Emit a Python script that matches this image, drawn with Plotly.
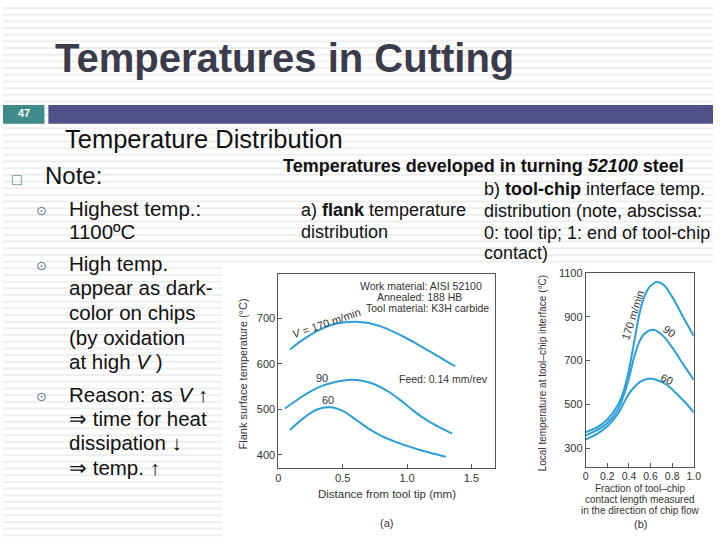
import plotly.graph_objects as go

W, H = 720, 540

# ---------------- data ----------------
# (a) flank temperature vs distance from tool tip (mm)
a_x_170 = [0.09, 0.2, 0.3, 0.4, 0.5, 0.6, 0.7, 0.8, 0.9, 1.0, 1.1, 1.2, 1.3, 1.375]
a_y_170 = [632, 655, 672, 685, 691, 693, 690, 682, 670, 656, 640, 624, 607, 595]
a_x_90 = [0.05, 0.15, 0.25, 0.35, 0.45, 0.55, 0.65, 0.75, 0.85, 0.95, 1.05, 1.15, 1.25, 1.35]
a_y_90 = [502, 522, 540, 553, 561, 565, 563, 555, 540, 520, 497, 477, 461, 447]
a_x_60 = [0.09, 0.2, 0.3, 0.4, 0.5, 0.6, 0.7, 0.8, 0.9, 1.0, 1.1, 1.2, 1.3]
a_y_60 = [455, 482, 500, 505, 497, 478, 458, 442, 430, 420, 411, 403, 396]

# (b) tool-chip interface temperature vs fraction of contact length
b_x_170 = [0, 0.1, 0.2, 0.3, 0.35, 0.4, 0.45, 0.5, 0.55, 0.6, 0.66, 0.72, 0.8, 0.9, 1.0]
b_y_170 = [375, 395, 432, 500, 560, 660, 790, 920, 1000, 1040, 1058, 1045, 990, 900, 812]
b_x_90 = [0, 0.1, 0.2, 0.3, 0.35, 0.4, 0.45, 0.5, 0.55, 0.62, 0.7, 0.8, 0.9, 1.0]
b_y_90 = [360, 382, 416, 480, 540, 620, 720, 790, 825, 840, 820, 760, 685, 612]
b_x_60 = [0, 0.1, 0.2, 0.3, 0.35, 0.4, 0.45, 0.5, 0.58, 0.66, 0.75, 0.85, 0.93, 1.0]
b_y_60 = [341, 365, 401, 460, 505, 550, 580, 602, 617, 612, 590, 545, 505, 464]

a_xticks = [0, 0.5, 1.0, 1.5]
a_xticktext = ["0", "0.5", "1.0", "1.5"]
a_yticks = [400, 500, 600, 700]
b_xticks = [0, 0.2, 0.4, 0.6, 0.8, 1.0]
b_xticktext = ["0", "0.2", "0.4", "0.6", "0.8", "1.0"]
b_yticks = [300, 500, 700, 900, 1100]

CURVE = "#2c9fd8"
TXT = "#333333"
FONT = "Liberation Sans, Arial, sans-serif"


def px(x):
    return x / W


def py(y):
    return 1 - y / H


fig = go.Figure()

for xs, ys in [(a_x_170, a_y_170), (a_x_90, a_y_90), (a_x_60, a_y_60)]:
    fig.add_trace(go.Scatter(x=xs, y=ys, mode="lines", xaxis="x", yaxis="y",
                             line=dict(color=CURVE, width=2, shape="spline", smoothing=1.0),
                             showlegend=False, hoverinfo="skip"))
for xs, ys in [(b_x_170, b_y_170), (b_x_90, b_y_90), (b_x_60, b_y_60)]:
    fig.add_trace(go.Scatter(x=xs, y=ys, mode="lines", xaxis="x2", yaxis="y2",
                             line=dict(color=CURVE, width=2, shape="spline", smoothing=1.0),
                             showlegend=False, hoverinfo="skip"))

axis_common = dict(showline=True, mirror=True, linecolor="#555555", linewidth=1,
                   ticks="inside", ticklen=4, tickcolor="#555555", showgrid=False,
                   zeroline=False, tickfont=dict(family=FONT, size=11, color=TXT),
                   fixedrange=True)
axis_b_x = dict(axis_common)
axis_b_x["tickfont"] = dict(family=FONT, size=10.5, color=TXT)

shapes = []
# faint horizontal stripes of slide background
y = 1.0
while y < H:
    shapes.append(dict(type="rect", xref="paper", yref="paper", layer="below",
                       x0=0, x1=1, y0=py(y + 2), y1=py(y),
                       fillcolor="#eeeeee", line=dict(width=0)))
    y += 6.75
# white picture area
shapes.append(dict(type="rect", xref="paper", yref="paper", layer="below",
                   x0=px(222), x1=1, y0=0, y1=py(262),
                   fillcolor="white", line=dict(width=0)))
# slide number box and bar
shapes.append(dict(type="rect", xref="paper", yref="paper", layer="below",
                   x0=0, x1=px(42), y0=py(119), y1=py(100),
                   fillcolor="#3f8a8b", line=dict(width=0)))
shapes.append(dict(type="rect", xref="paper", yref="paper", layer="below",
                   x0=px(46), x1=1, y0=py(119), y1=py(100),
                   fillcolor="#51518a", line=dict(width=0)))

ann = []


def T(text, x, y, size, color="#111111", xanchor="left", angle=0, family=FONT):
    if angle == 0:
        y = y - 0.16 * size
    ann.append(dict(text=text, x=px(x), y=py(y), xref="paper", yref="paper",
                    xanchor=xanchor, yanchor="middle", showarrow=False,
                    textangle=angle, font=dict(family=family, size=size, color=color)))


# slide title and header
T("<b>Temperatures in Cutting</b>", 51, 59, 40, color="#3b3b4b")
T("<b>47</b>", 21, 110, 11, color="white", xanchor="center")
T("Temperature Distribution", 61, 139, 25.5)

# left notes
T("□", 14, 178, 16, color="#3a6f78", xanchor="center")
T("Note:", 41, 175, 24)
BUL = "#5b7b7d"
for yb in [208, 264, 396]:
    T("⊙", 39, yb + 1, 13, color=BUL, xanchor="center", family="DejaVu Sans")
body = [("Highest temp.:", 208), ("1100ºC", 231), ("High temp.", 264),
        ("appear as dark-", 288), ("color on chips", 313), ("(by oxidation", 339),
        ("at high <i>V</i> )", 363), ("Reason: as <i>V</i> ↑", 396),
        ("⇒ time for heat", 420), ("dissipation ↓", 445), ("⇒ temp. ↑", 470)]
for t, yy in body:
    T(t, 65, yy, 20.5)

# right header text
T("<b>Temperatures developed in turning <i>52100</i> steel</b>", 282, 165, 18)
T("b) <b>tool-chip</b> interface temp.", 486, 188, 18)
T("distribution (note, abscissa:", 486, 210, 18)
T("0: tool tip; 1: end of tool-chip", 486, 232, 18)
T("contact)", 486, 253, 18)
T("a) <b>flank</b> temperature", 300, 209, 18)
T("distribution", 300, 231, 18)

# chart (a) texts
T("Work material: AISI 52100", 424, 285, 10.5, color=TXT, xanchor="center")
T("Annealed: 188 HB", 422, 296, 10.5, color=TXT, xanchor="center")
T("Tool material: K3H carbide", 430, 307, 10.5, color=TXT, xanchor="center")
T("Feed: 0.14 mm/rev", 447, 379, 10.5, color=TXT, xanchor="center")
T("<i>V</i> = 170 m/min", 328, 321, 11, color=TXT, xanchor="center", angle=-19)
T("90", 323, 378, 11, color=TXT, xanchor="center")
T("60", 330, 400, 11, color=TXT, xanchor="center")
T("Flank surface temperature (°C)", 243, 372, 11, color=TXT, xanchor="center", angle=-90)
T("Distance from tool tip (mm)", 389, 495, 11.5, color=TXT, xanchor="center")
T("(a)", 389, 525, 11, color=TXT, xanchor="center")

# chart (b) texts
T("170 m/min", 638, 313, 11, color=TXT, xanchor="center", angle=-72)
T("90", 675, 329, 11, color=TXT, xanchor="center", angle=35)
T("60", 673, 377, 11, color=TXT, xanchor="center", angle=25)
T("Local temperature at tool–chip interface (°C)", 547, 371, 10, color=TXT,
  xanchor="center", angle=-90)
T("Fraction of tool–chip", 646, 490, 10, color=TXT, xanchor="center")
T("contact length measured", 646, 501, 10, color=TXT, xanchor="center")
T("in the direction of chip flow", 646, 512, 10, color=TXT, xanchor="center")
T("(b)", 646, 526, 11, color=TXT, xanchor="center")

fig.update_layout(
    width=W, height=H, margin=dict(l=0, r=0, t=0, b=0),
    paper_bgcolor="white", plot_bgcolor="rgba(0,0,0,0)",
    showlegend=False,
    xaxis=dict(domain=[px(279.3), px(499.3)], range=[0, 1.686], anchor="y",
               tickvals=a_xticks, ticktext=a_xticktext, **axis_common),
    yaxis=dict(domain=[py(466.7), py(271)], range=[372.4, 797.8], anchor="x",
               tickvals=a_yticks, **axis_common),
    xaxis2=dict(domain=[px(591), px(700.5)], range=[0, 1.0], anchor="y2",
                tickvals=b_xticks, ticktext=b_xticktext, ticklabelstandoff=0, **axis_b_x),
    yaxis2=dict(domain=[py(465.7), py(269.5)], range=[218, 1101], anchor="x2",
                tickvals=b_yticks, ticklabelstandoff=0, **axis_common),
    shapes=shapes,
    annotations=ann,
)

fig.write_html("out.html", config={"displayModeBar": False},
               post_script="document.body.style.margin='0';document.body.style.overflow='hidden';")
